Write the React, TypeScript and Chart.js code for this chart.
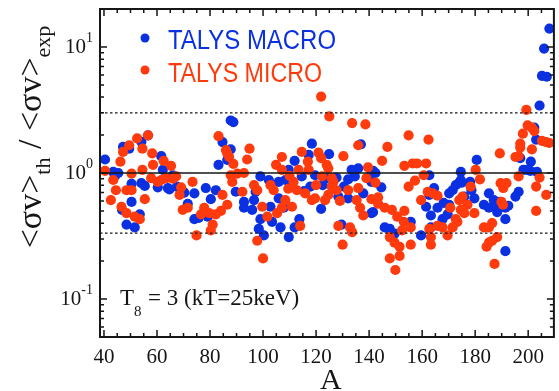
import React, { useEffect, useRef } from 'react';
import { Chart, registerables } from 'chart.js';

Chart.register(...registerables);

// ---- data: [A, <sv>_th/<sv>_exp] ----
const macroPoints: [number, number][] = [
  [40.4, 1.28], [43.5, 1.02], [44.2, 0.95], [45.4, 1.0], [46.8, 0.51], [47.2, 1.61], [49.5, 1.56], [50.4, 0.82],
  [50.4, 0.59], [48.5, 0.39], [51.6, 0.37], [53.5, 0.47], [54.1, 1.77], [56.6, 1.99], [61.6, 1.36], [62.2, 1.06],
  [54.1, 0.83], [55.4, 0.79], [60.3, 0.77], [64.1, 0.76], [64.7, 0.74], [66.0, 0.96], [67.5, 0.78], [70.3, 0.7],
  [71.6, 0.57], [74.1, 0.69], [74.1, 0.43],
  [87.8, 2.61], [88.8, 2.53], [84.7, 1.76], [87.8, 1.54], [83.2, 1.16], [86.5, 1.27], [78.4, 0.76], [82.2, 0.73],
  [80.3, 0.62], [75.7, 0.44], [79.1, 0.45], [89.7, 0.71], [92.8, 0.59], [92.8, 0.53], [95.9, 0.51], [99.0, 0.94],
  [97.2, 0.71], [96.6, 0.61], [99.0, 0.43], [98.4, 0.36], [100.3, 0.32], [102.8, 0.54], [103.4, 0.41], [105.9, 0.85],
  [105.9, 0.63], [106.6, 0.37], [102.2, 0.88],
  [118.4, 1.71], [111.9, 1.25], [117.2, 1.39], [124.9, 1.41], [136.9, 1.69], [119.6, 0.96], [114.6, 0.94], [109.7, 1.06],
  [117.8, 0.78], [124.0, 0.91], [127.7, 0.92], [128.4, 0.65], [132.1, 0.63], [133.4, 1.06], [135.9, 1.09], [132.1, 0.89],
  [137.8, 0.69], [121.9, 0.52], [107.8, 0.53], [113.7, 0.43], [109.7, 0.31], [111.9, 0.37], [129.6, 0.39], [140.9, 0.48],
  [134.6, 0.94], [108.4, 0.88], [110.5, 0.8], [115.5, 0.72], [122.5, 0.8], [130.5, 0.78],
  [141.5, 1.04], [142.4, 1.0], [140.3, 0.94], [140.9, 0.85], [144.6, 0.77], [141.5, 0.49], [145.9, 0.37], [147.8, 0.36],
  [149.6, 0.33], [155.7, 0.41], [159.6, 0.32], [162.7, 0.96], [164.5, 0.76], [162.7, 0.67], [161.5, 0.54], [163.3, 0.46],
  [165.8, 0.53], [167.7, 0.43], [168.1, 0.58], [169.6, 0.47], [170.2, 0.56], [170.2, 0.69], [171.5, 0.73], [172.7, 0.8],
  [174.0, 0.84], [174.6, 1.02], [163.3, 0.37],
  [204.3, 3.43], [202.3, 2.29], [203.0, 1.84], [201.0, 1.23], [198.2, 1.06], [199.6, 1.06], [200.8, 1.04], [203.3, 1.02],
  [197.0, 1.31], [196.4, 0.71], [195.2, 0.65], [180.6, 1.27], [174.6, 0.88], [175.0, 0.84], [178.1, 0.85], [178.6, 0.73],
  [175.9, 0.65], [179.7, 0.63], [183.3, 0.56], [185.2, 0.69], [187.0, 0.61], [185.2, 0.53], [187.7, 0.54], [189.3, 0.59],
  [188.3, 0.49], [191.4, 0.53], [192.5, 0.55], [191.4, 0.43], [191.4, 0.24],
  [208.0, 14.0], [206.0, 9.7], [205.2, 5.9], [207.0, 5.8],
];

const microPoints: [number, number][] = [
  [40.4, 1.04], [43.5, 0.88], [44.5, 0.73], [42.6, 0.61], [46.2, 1.23], [47.2, 1.47], [49.5, 1.66], [52.5, 1.88],
  [54.5, 1.56], [56.6, 1.99], [50.4, 0.99], [48.5, 0.73], [50.4, 0.73], [46.6, 0.54], [48.5, 0.48], [51.6, 0.45],
  [53.5, 0.43], [55.4, 0.62], [54.5, 1.06], [58.2, 1.43], [58.5, 1.16], [57.8, 0.91], [62.5, 1.25], [61.6, 0.88],
  [63.5, 0.91], [65.3, 1.14], [67.2, 0.94], [69.1, 0.77], [68.5, 0.67], [69.7, 0.51], [71.6, 0.53], [73.4, 0.85],
  [60.3, 0.85], [66.0, 0.9],
  [83.2, 1.96], [86.0, 1.52], [86.5, 1.43], [87.2, 1.34], [88.8, 1.18], [94.9, 1.56], [94.0, 1.28], [77.8, 0.53],
  [76.6, 0.47], [79.7, 0.48], [84.7, 0.67], [86.5, 0.56], [84.1, 0.5], [82.2, 0.47], [81.0, 0.39], [80.3, 0.35],
  [74.9, 0.32], [87.8, 0.96], [90.3, 0.99], [92.8, 1.0], [88.4, 0.85], [92.2, 0.71], [96.6, 0.8], [97.8, 0.73],
  [99.7, 0.54], [101.6, 0.45], [102.8, 0.8], [104.0, 0.73], [104.9, 1.16], [107.1, 1.34], [97.8, 0.29], [100.0, 0.21],
  [105.3, 0.48],
  [121.9, 4.04], [125.0, 2.81], [133.6, 2.49], [138.6, 2.43], [135.9, 1.66], [114.6, 1.47], [116.9, 1.23], [120.9, 1.45],
  [121.9, 1.31], [124.0, 1.16], [124.6, 1.09], [130.3, 1.36], [107.1, 1.06], [122.2, 0.94], [125.9, 0.91], [111.5, 0.85],
  [112.8, 0.73], [115.9, 0.69], [118.4, 0.61], [108.4, 0.61], [110.9, 0.54], [107.1, 0.53], [124.6, 0.67], [127.7, 0.73],
  [123.4, 0.61], [132.1, 0.73], [135.9, 0.76], [135.3, 0.61], [136.6, 0.53], [137.8, 0.46], [139.0, 0.91], [139.6, 1.11],
  [114.0, 0.38], [128.4, 0.38], [132.8, 0.37], [133.6, 0.34], [130.0, 0.27], [119.6, 0.63], [113.4, 1.06], [117.2, 1.06],
  [125.9, 0.78], [109.5, 0.75], [120.0, 0.8], [126.5, 0.85], [129.0, 0.6], [110.0, 0.95],
  [154.9, 1.99], [162.4, 1.84], [146.9, 1.61], [144.9, 1.25], [153.3, 1.14], [156.4, 1.19], [158.1, 1.19], [161.5, 1.19],
  [160.6, 0.96], [157.3, 0.87], [154.9, 0.78], [142.4, 0.84], [140.9, 0.62], [143.4, 0.64], [143.4, 0.57], [145.9, 0.53],
  [148.6, 0.51], [150.6, 0.45], [153.3, 0.5], [153.1, 0.41], [152.4, 0.35], [155.7, 0.37], [155.7, 0.27], [147.8, 0.31],
  [149.6, 0.28], [151.5, 0.26], [151.5, 0.22], [147.8, 0.21], [149.9, 0.17], [159.6, 0.61], [162.1, 0.71], [164.0, 0.69],
  [165.8, 0.66], [162.7, 0.36], [163.3, 0.31], [163.3, 0.27], [165.8, 0.38], [167.7, 0.37], [169.6, 0.32], [171.5, 0.37],
  [172.7, 0.43], [170.6, 0.53], [174.0, 0.61],
  [199.3, 3.17], [199.8, 2.39], [201.4, 2.29], [202.3, 2.15], [198.0, 2.05], [205.2, 1.8], [206.8, 1.76], [208.0, 1.73],
  [197.0, 1.71], [197.0, 1.59], [196.4, 1.36], [195.2, 1.34], [201.4, 1.54], [189.3, 1.43], [204.3, 0.92], [196.4, 0.94],
  [203.0, 0.78], [206.8, 0.67], [203.0, 0.5], [189.6, 0.83], [191.8, 0.83], [190.6, 0.76], [189.9, 0.59], [190.5, 0.56],
  [180.2, 1.06], [181.8, 0.89], [178.3, 0.78], [175.2, 0.65], [177.1, 0.56], [174.6, 0.51], [175.9, 0.48], [179.7, 0.48],
  [173.3, 0.41], [183.3, 0.37], [185.2, 0.37], [186.4, 0.4], [188.3, 0.31], [186.4, 0.29], [185.2, 0.28], [184.3, 0.26],
  [187.3, 0.19],
];

const seriesLabels = ['TALYS MACRO', 'TALYS MICRO'];
const xTickLabels = [40, 60, 80, 100, 120, 140, 160, 180, 200];
const yTickExponents = [1, 0, -1];
const referenceLevels = [1 / 3, 1, 3];

const X_MIN = 38.5;
const X_MAX = 209.7;
const Y_MIN = 0.05;
const Y_MAX = 20;

const BLUE = '#0b30e2';
const RED = '#ff3a0c';
const INK = '#161616';
const SERIF = '"Liberation Serif", "Times New Roman", serif';
const SANS = '"Liberation Sans", Arial, sans-serif';

const decorPlugin = {
  id: 'decor',
  afterDatasetsDraw(chart: any) {
    const { ctx, chartArea: ca, scales } = chart;
    const xs = scales.x;
    const ys = scales.y;
    ctx.save();
    ctx.strokeStyle = INK;
    ctx.lineWidth = 1.5;
    ctx.beginPath();
    for (let v = 40; v <= 205; v += 5) {
      const px = xs.getPixelForValue(v);
      const len = v % 20 === 0 ? 7 : 4;
      ctx.moveTo(px, ca.bottom);
      ctx.lineTo(px, ca.bottom - len);
      ctx.moveTo(px, ca.top);
      ctx.lineTo(px, ca.top + len);
    }
    for (let e = -2; e <= 1; e++) {
      for (let m = 1; m <= 9; m++) {
        const v = m * Math.pow(10, e);
        if (v < Y_MIN || v > Y_MAX) continue;
        const py = ys.getPixelForValue(v);
        const len = m === 1 ? 7 : 4;
        ctx.moveTo(ca.left, py);
        ctx.lineTo(ca.left + len, py);
        ctx.moveTo(ca.right, py);
        ctx.lineTo(ca.right - len, py);
      }
    }
    ctx.stroke();
    ctx.lineWidth = 2;
    ctx.strokeRect(ca.left, ca.top, ca.right - ca.left, ca.bottom - ca.top);
    ctx.restore();
  },
  afterDraw(chart: any) {
    const { ctx, chartArea: ca, scales } = chart;
    const xs = scales.x;
    const ys = scales.y;
    ctx.save();
    ctx.fillStyle = INK;
    ctx.textBaseline = 'alphabetic';

    // x tick labels
    ctx.font = `21px ${SERIF}`;
    ctx.textAlign = 'center';
    for (const v of xTickLabels) {
      ctx.fillText(String(v), xs.getPixelForValue(v), ca.bottom + 26);
    }

    // y tick labels 10^n
    for (const e of yTickExponents) {
      const py = ys.getPixelForValue(Math.pow(10, e));
      const supText = e < 0 ? '-' + Math.abs(e) : String(e);
      ctx.font = `14px ${SERIF}`;
      const supW = ctx.measureText(supText).width;
      const right = ca.left - 7;
      ctx.textAlign = 'left';
      ctx.fillText(supText, right - supW, py - 5);
      ctx.font = `21px ${SERIF}`;
      ctx.textAlign = 'right';
      ctx.fillText('10', right - supW, py + 6);
    }

    // x title
    ctx.font = `30px ${SERIF}`;
    ctx.textAlign = 'center';
    ctx.fillText('A', (ca.left + ca.right) / 2 + 4, 389);

    // y title (rotated)
    const main = `34px ${SERIF}`;
    const sub = `22px ${SERIF}`;
    const parts: [string, string, number][] = [
      ['<σv>', main, 0],
      ['th', sub, 9],
      [' / ', main, 0],
      ['<σv>', main, 0],
      ['exp', sub, 9],
    ];
    let total = 0;
    for (const [t, f] of parts) {
      ctx.font = f;
      total += ctx.measureText(t).width;
    }
    ctx.save();
    ctx.translate(41, (ca.top + ca.bottom) / 2 - 36 + total / 2);
    ctx.rotate(-Math.PI / 2);
    ctx.textAlign = 'left';
    let u = 0;
    for (const [t, f, dv] of parts) {
      ctx.font = f;
      ctx.fillText(t, u, dv);
      u += ctx.measureText(t).width;
    }
    ctx.restore();

    // annotation
    ctx.textAlign = 'left';
    ctx.font = `23px ${SERIF}`;
    ctx.fillText('T', 120, 305);
    ctx.font = `15px ${SERIF}`;
    ctx.fillText('8', 134, 316);
    ctx.font = `23px ${SERIF}`;
    ctx.fillText('= 3', 148, 305);
    ctx.fillText('(kT=25keV)', 184, 305);

    // legend
    const legendRows: [string, string, number, number, number][] = [
      [seriesLabels[0], BLUE, 38, 49, 168],
      [seriesLabels[1], RED, 70, 82, 154],
    ];
    for (const [label, color, dotY, baseY, targetW] of legendRows) {
      ctx.fillStyle = color;
      ctx.beginPath();
      ctx.arc(145, dotY, 4.5, 0, Math.PI * 2);
      ctx.fill();
      ctx.font = `27px ${SANS}`;
      const w = ctx.measureText(label).width;
      ctx.save();
      ctx.translate(168, baseY);
      ctx.scale(targetW / w, 1);
      ctx.fillText(label, 0, 0);
      ctx.restore();
    }
    ctx.restore();
  },
};

export default function App() {
  const canvasRef = useRef<HTMLCanvasElement | null>(null);

  useEffect(() => {
    const canvas = canvasRef.current;
    if (!canvas) return;
    const lineSets = referenceLevels.map((lvl) => ({
      type: 'line' as const,
      label: 'ref ' + lvl,
      data: [
        { x: X_MIN, y: lvl },
        { x: X_MAX, y: lvl },
      ],
      borderColor: INK,
      borderWidth: lvl === 1 ? 1.7 : 1.4,
      borderDash: lvl === 1 ? [] : [2.5, 2.5],
      pointRadius: 0,
      fill: false,
      order: 0,
    }));
    const chart = new Chart(canvas, {
      type: 'scatter',
      data: {
        datasets: [
          {
            label: seriesLabels[0],
            data: macroPoints.map(([a, r]) => ({ x: a, y: r })),
            pointBackgroundColor: BLUE,
            backgroundColor: BLUE,
            pointBorderWidth: 0,
            pointRadius: 5.1,
            order: 2,
          },
          {
            label: seriesLabels[1],
            data: microPoints.map(([a, r]) => ({ x: a, y: r })),
            pointBackgroundColor: RED,
            backgroundColor: RED,
            pointBorderWidth: 0,
            pointRadius: 5.1,
            order: 1,
          },
          ...lineSets,
        ] as any,
      },
      options: {
        animation: false,
        responsive: false,
        maintainAspectRatio: false,
        layout: { padding: { top: 9, right: 2, left: 0, bottom: 0 } },
        plugins: { legend: { display: false }, tooltip: { enabled: false } },
        scales: {
          x: {
            type: 'linear',
            min: X_MIN,
            max: X_MAX,
            ticks: { display: false },
            grid: { display: false },
            border: { display: false },
            afterFit: (s: any) => {
              s.height = 54;
            },
          },
          y: {
            type: 'logarithmic',
            min: Y_MIN,
            max: Y_MAX,
            ticks: { display: false },
            grid: { display: false },
            border: { display: false },
            afterFit: (s: any) => {
              s.width = 100;
            },
          },
        },
      } as any,
      plugins: [decorPlugin],
    });
    return () => chart.destroy();
  }, []);

  return (
    <div style={{ position: 'fixed', left: 0, top: 0, width: 559, height: 391, background: '#fff' }}>
      <canvas ref={canvasRef} width={559} height={391} style={{ width: 559, height: 391, display: 'block' }} />
    </div>
  );
}
